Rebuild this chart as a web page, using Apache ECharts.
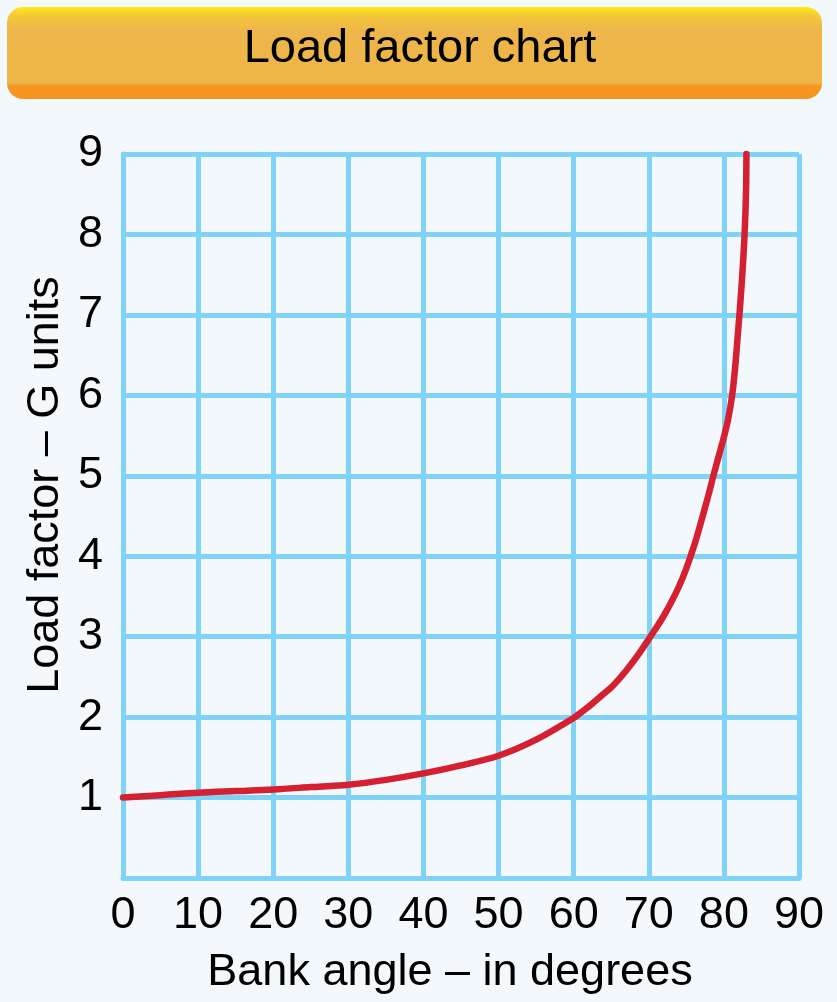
<!DOCTYPE html>
<html>
<head>
<meta charset="utf-8">
<script src="https://cdn.jsdelivr.net/npm/echarts@6/dist/echarts.min.js"></script>
<style>
    html, body { margin: 0; padding: 0; background: #f3f8fc; }
    #chart { width: 837px; height: 1002px; }
</style>
</head>
<body>
<div id="chart"></div>
<script>
// bank angle (deg) vs load factor (G)
const bankAngle = [
    0, 5, 10, 15, 20, 25, 30, 35, 40, 45, 50, 55, 60, 61, 62, 63, 64, 65, 66, 67, 68, 69, 70,
    71, 72, 73, 74, 75, 76, 77, 78, 78.6, 79.3, 80, 80.6, 81.1, 81.5, 81.85,
    82.15, 82.45, 82.7, 82.88, 82.97, 83.0,
]
const loadFactor = [
    1.0, 1.03, 1.06, 1.08, 1.10, 1.13, 1.16, 1.22, 1.30, 1.40, 1.52, 1.72, 1.99, 2.06, 2.13, 2.21, 2.29, 2.37, 2.47, 2.58, 2.70, 2.83, 2.97,
    3.11, 3.26, 3.43, 3.62, 3.85, 4.12, 4.44, 4.78, 5.0, 5.24, 5.48, 5.72, 6.0, 6.35, 6.75,
    7.1, 7.5, 7.9, 8.3, 8.65, 9.0,
]
const xTicks = [0, 10, 20, 30, 40, 50, 60, 70, 80, 90]
const yTicks = [0, 1, 2, 3, 4, 5, 6, 7, 8, 9]

const titleText = "Load factor chart"
const xName = "Bank angle \u2013 in degrees"
const yName = "Load factor \u2013 G units"

const font = "'Liberation Sans', Arial, Helvetica, sans-serif"
const gridColor = "#7fd3f6"

let myChart = echarts.init(document.getElementById("chart"))
myChart.setOption({
    backgroundColor: "#f3f8fc",
    animation: false,
    graphic: [
        {
            type: "rect",
            shape: { x: 7, y: 7, width: 815, height: 92, r: 16 },
            style: {
                fill: new echarts.graphic.LinearGradient(0, 0, 0, 1, [
                    { offset: 0, color: "#fdea14" },
                    { offset: 0.1, color: "#f4c73a" },
                    { offset: 0.25, color: "#eeb64a" },
                    { offset: 0.83, color: "#eeb548" },
                    { offset: 0.86, color: "#f6951f" },
                    { offset: 1, color: "#f6941f" },
                ]),
            },
        },
        {
            type: "text",
            x: 420,
            y: 49,
            style: {
                text: titleText,
                fontSize: 47,
                fontFamily: font,
                fill: "#000",
                align: "center",
                verticalAlign: "middle",
            },
        },
        {
            type: "text",
            x: 46,
            y: 485,
            rotation: Math.PI / 2,
            style: {
                text: yName,
                fontSize: 45,
                fontFamily: font,
                fill: "#000",
                align: "center",
                verticalAlign: "middle",
            },
        },
        {
            type: "text",
            x: 450,
            y: 973,
            style: {
                text: xName,
                fontSize: 45,
                fontFamily: font,
                fill: "#000",
                align: "center",
                verticalAlign: "middle",
            },
        },
    ],
    grid: {
        left: 123,
        right: 38,
        top: 154,
        bottom: 124,
        containLabel: false,
    },
    xAxis: {
        type: "value",
        min: xTicks[0],
        max: xTicks[xTicks.length - 1],
        interval: 10,
        axisLine: { show: true, lineStyle: { color: gridColor, width: 5 } },
        axisTick: { show: false },
        splitLine: { show: true, lineStyle: { color: gridColor, width: 5 } },
        axisLabel: {
            margin: 15,
            fontSize: 45,
            fontFamily: font,
            color: "#000",
            showMinLabel: true,
            showMaxLabel: true,
        },
    },
    yAxis: {
        type: "value",
        min: yTicks[0],
        max: yTicks[yTicks.length - 1],
        interval: 1,
        axisLine: { show: true, lineStyle: { color: gridColor, width: 5 } },
        axisTick: { show: false },
        splitLine: { show: true, lineStyle: { color: gridColor, width: 5 } },
        axisLabel: {
            margin: 20,
            fontSize: 45,
            fontFamily: font,
            color: "#000",
            formatter: function (v) {
                return v === 0 ? "" : String(v)
            },
        },
    },
    series: [
        {
            type: "line",
            data: bankAngle.map((a, i) => [a, loadFactor[i]]),
            smooth: 0.3,
            symbol: "none",
            clip: false,
            lineStyle: { color: "#d42030", width: 6.5, cap: "round", join: "round" },
        },
    ],
})
window.addEventListener("resize", function () {
    myChart.resize()
})
</script>
</body>
</html>
